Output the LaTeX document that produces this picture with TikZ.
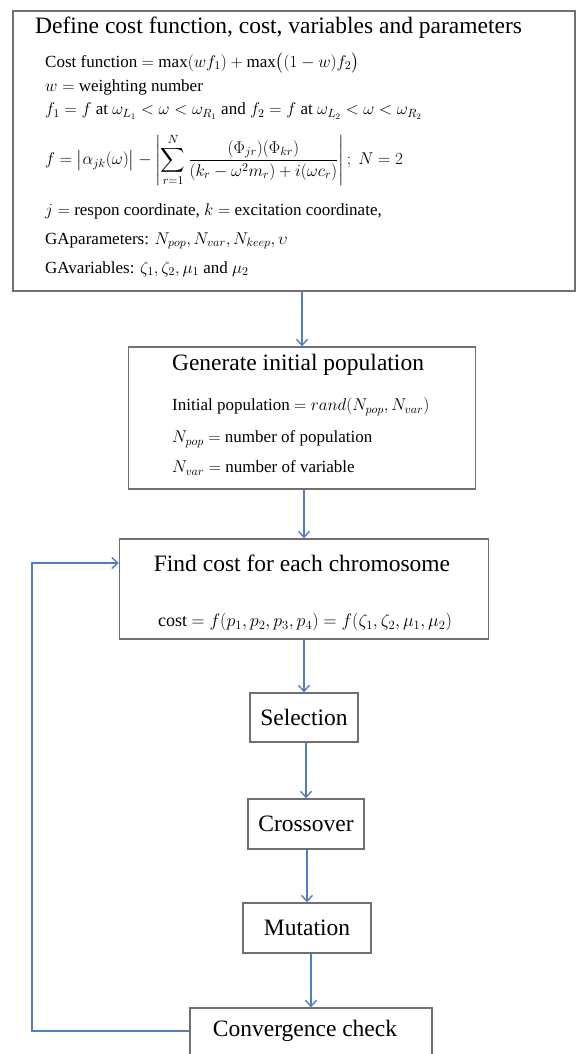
\documentclass[tikz,border=0pt]{standalone}
\usepackage{fix-cm}
\usepackage{amsmath,amssymb}
\usepackage{fontspec}
\setmainfont{Liberation Serif}
\usepackage{xcolor}
\usepackage{tikz}
\usetikzlibrary{arrows.meta}
\definecolor{frame}{HTML}{707070}
\definecolor{flow}{HTML}{4F7FBF}
\tikzset{
  box/.style={draw=frame, line width=1.4pt, inner sep=0pt},
  ttl/.style={text=black, font=\fontsize{23.5}{26}\selectfont, inner sep=0pt},
  eqn/.style={text=black, font=\fontsize{17}{20}\selectfont, inner sep=0pt, anchor=west},
  arr/.style={draw=flow, line width=1.4pt, -{Straight Barb[length=6pt,width=11pt]}}
}

\begin{document}
\begin{tikzpicture}[x=1pt,y=-1pt]
\useasboundingbox (0,0) rectangle (577,1054);
% define box
\node[box, minimum width=562pt, minimum height=280pt] (def) at (294,151) {};
\node[ttl, anchor=west] (deftitle) at (35,28) {Define cost function, cost, variables and parameters};
\node[eqn] (costfn) at (45,63) {Cost function $=\max(wf_1)+\max\bigl((1-w)f_2\bigr)$};
\node[eqn] (weight) at (45,87) {$w=$ weighting number};
\node[eqn] (range) at (45,111) {$f_1=f$ at $\omega_{L_1}<\omega<\omega_{R_1}$ and $f_2=f$ at $\omega_{L_2}<\omega<\omega_{R_2}$};
\node[eqn] (frf) at (45,160) {$f=\bigl|\alpha_{jk}(\omega)\bigr|-\left|\displaystyle\sum_{r=1}^{N}\frac{(\Phi_{jr})(\Phi_{kr})}{(k_r-\omega^2m_r)+i(\omega c_r)}\right|;\ N=2$};
\node[eqn] (coord) at (45,211) {$j=$ respon coordinate, $k=$ excitation coordinate,};
\node[eqn] (gapar) at (45,241) {GAparameters: $N_{pop},N_{var},N_{keep},\upsilon$};
\node[eqn] (gavar) at (45,269) {GAvariables: $\zeta_1,\zeta_2,\mu_1$ and $\mu_2$};

% initial population
\node[box, minimum width=347pt, minimum height=142pt] (gen) at (302,418) {};
\node[ttl] (gentitle) at (298,365) {Generate initial population};
\node[eqn] (rand) at (172,407) {Initial population $=rand(N_{pop},N_{var})$};
\node[eqn] (npop) at (172,439) {$N_{pop}=$ number of population};
\node[eqn] (nvar) at (172,468) {$N_{var}=$ number of variable};

% cost
\node[box, minimum width=369pt, minimum height=100pt] (cost) at (304,589) {};
\node[ttl] (costtitle) at (302,563) {Find cost for each chromosome};
\node[eqn, anchor=center, font=\fontsize{18}{21}\selectfont] (costeq) at (305,622) {cost $=f(p_1,p_2,p_3,p_4)=f(\zeta_1,\zeta_2,\mu_1,\mu_2)$};

% GA steps
\node[box, ttl, minimum width=108pt, minimum height=49pt] (sel) at (304,717.5) {Selection};
\node[box, ttl, minimum width=116pt, minimum height=50pt] (cross) at (306,824) {Crossover};
\node[box, ttl, minimum width=128pt, minimum height=50pt] (mut) at (307,928) {Mutation};
\node[box, minimum width=242pt, minimum height=50pt] (conv) at (311,1033) {};
\node[ttl] (convtext) at (305,1031) {Convergence check};

% arrows
\coordinate (loopx) at (32,0);
\draw[arr] (def.south -| gen.north) -- (gen.north);
\draw[arr] (gen.south -| cost.north) -- (cost.north);
\draw[arr] (cost.south -| sel.north) -- (sel.north);
\draw[arr] (sel.south -| cross.north) -- (cross.north);
\draw[arr] (cross.south -| mut.north) -- (mut.north);
\draw[arr] (mut.south -| conv.north) -- (conv.north);
\draw[arr] (conv.west |- convtext) -- (loopx |- convtext) |- (cost.west |- costtitle);
\end{tikzpicture}
\end{document}
